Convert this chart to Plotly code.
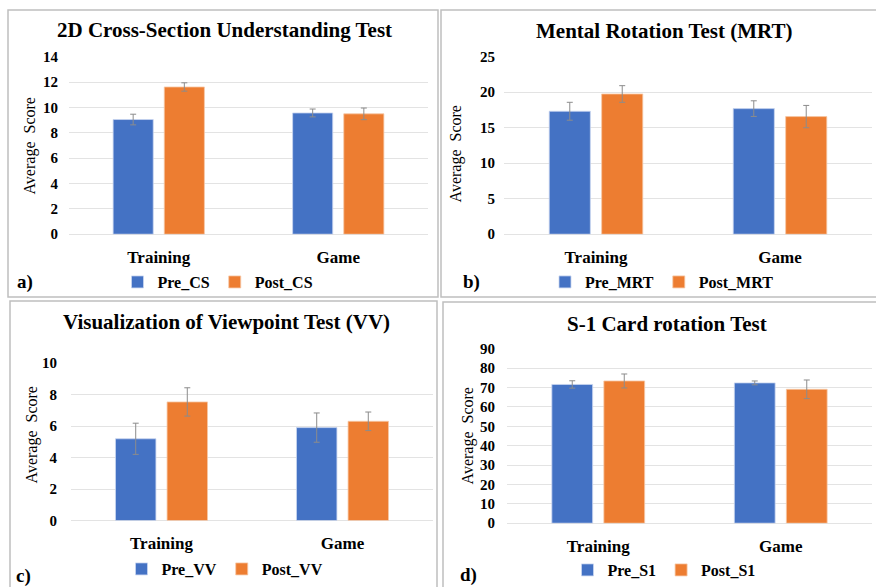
import plotly.graph_objects as go

W, H = 876, 587

categories = ["Training", "Game"]

# Panel a: 2D Cross-Section Understanding Test
cs_pre = [9.05, 9.57]
cs_post = [11.62, 9.5]
cs_pre_err = [0.42, 0.31]
cs_post_err = [0.33, 0.46]

# Panel b: Mental Rotation Test
mrt_pre = [17.3, 17.67]
mrt_post = [19.73, 16.55]
mrt_pre_err = [1.26, 1.1]
mrt_post_err = [1.17, 1.57]

# Panel c: Visualization of Viewpoint Test
vv_pre = [5.19, 5.9]
vv_post = [7.53, 6.3]
vv_pre_err = [0.99, 0.93]
vv_post_err = [0.9, 0.59]

# Panel d: S-1 Card rotation Test
s1_pre = [71.6, 72.4]
s1_post = [73.4, 69.1]
s1_pre_err = [1.9, 1.0]
s1_post_err = [3.6, 4.8]

titles = ["2D Cross-Section Understanding Test", "Mental Rotation Test (MRT)",
          "Visualization of Viewpoint Test (VV)", "S-1 Card rotation Test"]
pre_names = ["Pre_CS", "Pre_MRT", "Pre_VV", "Pre_S1"]
post_names = ["Post_CS", "Post_MRT", "Post_VV", "Post_S1"]
panel_labels = ["a)", "b)", "c)", "d)"]
y_ranges = [[0, 14], [0, 25], [0, 10], [0, 90]]
y_dticks = [2, 5, 2, 10]

BLUE = "#4472C4"
ORANGE = "#ED7D31"
FONT = "Liberation Serif, Times New Roman, DejaVu Serif, serif"

def px(x):
    return x / W

def py(y):
    return 1 - (y - 8) / (H - 18)

# layout geometry per panel (pixels)
geo = [
    dict(x0=69, x1=428, yb=235, yt=57, title=(224, 30), leg=(218, 283), lab=(25, 283), yt_t=(30, 147), box=(8, 10, 438, 298), stand=10),
    dict(x0=504, x1=872, yb=235, yt=56.7, title=(664, 31), leg=(662, 283), lab=(471, 283), yt_t=(456, 155), box=(441, 10, 880, 298), stand=8),
    dict(x0=71, x1=433, yb=522.3, yt=364.3, title=(226, 323), leg=(225, 571), lab=(23, 578), yt_t=(32, 437), box=(10, 302, 437, 600), stand=13),
    dict(x0=507, x1=872, yb=525, yt=350, title=(667, 325), leg=(664, 572), lab=(469, 577), yt_t=(468, 438), box=(443, 303, 880, 600), stand=11),
]

pre_vals = [cs_pre, mrt_pre, vv_pre, s1_pre]
post_vals = [cs_post, mrt_post, vv_post, s1_post]
pre_errs = [cs_pre_err, mrt_pre_err, vv_pre_err, s1_pre_err]
post_errs = [cs_post_err, mrt_post_err, vv_post_err, s1_post_err]

fig = go.Figure()
layout = dict(width=W, height=H, margin=dict(l=0, r=0, t=0, b=0),
              paper_bgcolor="white", plot_bgcolor="white",
              barmode="group", bargap=0.43, bargroupgap=0.216,
              font=dict(family=FONT, color="black"))
annotations = []
shapes = []

for i in range(4):
    g = geo[i]
    sfx = "" if i == 0 else str(i + 1)
    xa = "x" + sfx
    ya = "y" + sfx
    leg = "legend" if i == 0 else "legend" + str(i + 1)
    errstyle = dict(type="data", visible=True, color="#8c8c8c", thickness=1, width=3)
    fig.add_trace(go.Bar(x=categories, y=pre_vals[i], name=pre_names[i], marker_color=BLUE,
                         marker_line=dict(color="#c9d6f0", width=0.8),
                         error_y=dict(array=pre_errs[i], **errstyle),
                         xaxis=xa, yaxis=ya, legend=leg))
    fig.add_trace(go.Bar(x=categories, y=post_vals[i], name=post_names[i], marker_color=ORANGE,
                         marker_line=dict(color="#f6c8a6", width=0.8),
                         error_y=dict(array=post_errs[i], **errstyle),
                         xaxis=xa, yaxis=ya, legend=leg))
    layout["xaxis" + sfx] = dict(domain=[px(g["x0"]), px(g["x1"])], anchor=ya,
                                 range=[-0.5, 1.5], showgrid=False, showline=False,
                                 zeroline=False, ticks="", ticklabelstandoff=11,
                                 tickfont=dict(family=FONT, size=17, color="black", weight="bold"))
    layout["yaxis" + sfx] = dict(domain=[py(g["yb"]), py(g["yt"])], anchor=xa,
                                 range=y_ranges[i], dtick=y_dticks[i], showgrid=True,
                                 gridcolor="#e3e3e3", gridwidth=1, zeroline=True,
                                 zerolinecolor="#e3e3e3", zerolinewidth=1, showline=False,
                                 ticks="", ticklabelstandoff=g["stand"],
                                 tickfont=dict(family=FONT, size=15, color="black", weight="bold"))
    layout[leg] = dict(orientation="h", x=px(g["leg"][0]), y=py(g["leg"][1]),
                       xanchor="center", yanchor="middle", itemwidth=30,
                       font=dict(family=FONT, size=16, color="black", weight="bold"),
                       bgcolor="rgba(0,0,0,0)", traceorder="normal")
    annotations.append(dict(text="<b>" + titles[i] + "</b>", x=px(g["title"][0]), y=py(g["title"][1]),
                            xref="paper", yref="paper", showarrow=False, xanchor="center", yanchor="middle",
                            font=dict(family=FONT, size=21, color="black")))
    annotations.append(dict(text="<b>" + panel_labels[i] + "</b>", x=px(g["lab"][0]), y=py(g["lab"][1]),
                            xref="paper", yref="paper", showarrow=False, xanchor="center", yanchor="middle",
                            font=dict(family=FONT, size=19, color="black")))
    annotations.append(dict(text="Average  Score", x=px(g["yt_t"][0]), y=py(g["yt_t"][1]),
                            xref="paper", yref="paper", showarrow=False, xanchor="center", yanchor="middle",
                            textangle=-90, font=dict(family=FONT, size=16, color="black")))
    b = g["box"]
    shapes.append(dict(type="rect", xref="paper", yref="paper",
                       x0=px(b[0]), x1=px(b[2]), y0=py(b[3]), y1=py(b[1]),
                       line=dict(color="#bfbfbf", width=1.5), fillcolor="rgba(0,0,0,0)", layer="below"))

layout["annotations"] = annotations
layout["shapes"] = shapes
fig.update_layout(**layout)

post = ("var gd=document.getElementById('{plot_id}');"
        "document.documentElement.style.margin='0';document.documentElement.style.padding='0';"
        "document.documentElement.style.overflow='hidden';"
        "document.body.style.margin='0';document.body.style.padding='0';document.body.style.overflow='hidden';"
        "gd.style.position='fixed';gd.style.left='0px';gd.style.top='0px';")
fig.write_html("out.html", config={"displayModeBar": False}, post_script=post)
